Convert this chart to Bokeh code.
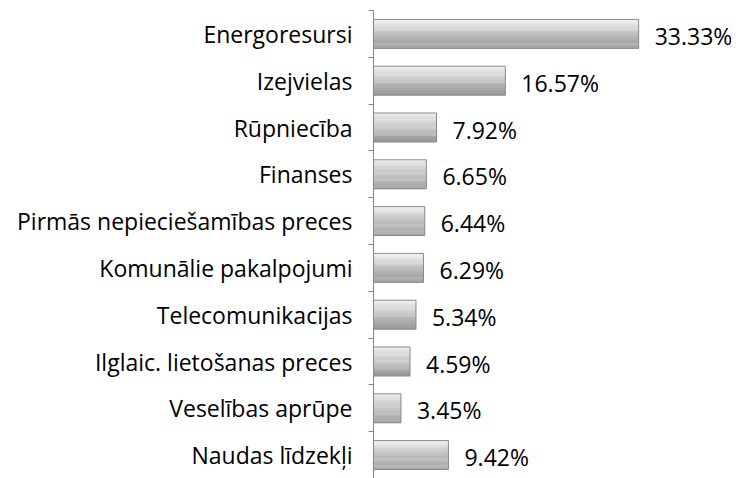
from bokeh.plotting import figure
from bokeh.models import Range1d, FixedTicker, ColumnDataSource, LabelSet
from bokeh.core.properties import value
from bokeh.embed import file_html
from bokeh.resources import INLINE

categories = ["Energoresursi", "Izejvielas", "Rūpniecība", "Finanses",
              "Pirmās nepieciešamības preces", "Komunālie pakalpojumi",
              "Telecomunikacijas", "Ilglaic. lietošanas preces",
              "Veselības aprūpe", "Naudas līdzekļi"]
values = [33.33, 16.57, 7.92, 6.65, 6.44, 6.29, 5.34, 4.59, 3.45, 9.42]
value_labels = ["33.33%", "16.57%", "7.92%", "6.65%", "6.44%", "6.29%",
                "5.34%", "4.59%", "3.45%", "9.42%"]

FONT = "Open Sans"
n = len(categories)
idx = list(range(n))

p = figure(width=750, height=478, output_backend="svg", toolbar_location=None,
           x_range=Range1d(0, 45), y_range=Range1d(n - 0.5, -0.5),
           min_border_left=373, min_border_right=19, min_border_top=10,
           min_border_bottom=0)
p.outline_line_color = None
p.xaxis.visible = False
p.xgrid.visible = False
p.ygrid.visible = False
p.background_fill_color = "white"

# gradient bars from stacked stripes
bar_h = 0.62
nstripes = 28
top_c = (238, 238, 238)
mid_c = (200, 200, 200)
bot_c = (152, 152, 152)
def mix(a, b, t):
    return "#%02x%02x%02x" % tuple(int(a[i] + (b[i] - a[i]) * t) for i in range(3))
sh = bar_h / nstripes
for k in range(nstripes):
    t = k / (nstripes - 1)
    col = mix(top_c, mid_c, t / 0.4) if t < 0.4 else mix(mid_c, bot_c, (t - 0.4) / 0.6)
    off = -bar_h / 2 + sh * (k + 0.5)
    src = ColumnDataSource(dict(y=[i + off for i in idx], v=values))
    p.hbar(y="y", right="v", left=0, height=sh * 1.15, source=src,
           fill_color=col, line_color=None)

# outline
src_o = ColumnDataSource(dict(y=idx, v=values))
p.hbar(y="y", right="v", left=0, height=bar_h, source=src_o,
       fill_color=None, line_color="#8a8a8a", line_width=1)

# value labels
src_l = ColumnDataSource(dict(y=idx, v=values, t=value_labels))
p.add_layout(LabelSet(x="v", y="y", text="t", source=src_l, x_offset=16,
                      y_offset=-2,
                      text_baseline="middle", text_align="left",
                      text_font=value(FONT), text_font_size="23px",
                      text_color="black"))

ax = p.yaxis[0]
ax.ticker = FixedTicker(ticks=idx, minor_ticks=[i - 0.5 for i in range(n + 1)])
ax.major_label_overrides = {i: c for i, c in enumerate(categories)}
ax.major_label_text_font = FONT
ax.major_label_text_font_size = "23px"
ax.major_label_text_color = "black"
ax.major_label_standoff = 16
ax.major_tick_line_color = None
ax.major_tick_out = 0
ax.major_tick_in = 0
ax.minor_tick_line_color = "#868686"
ax.minor_tick_out = 5
ax.minor_tick_in = 0
ax.axis_line_color = "#868686"

open("out.html", "w").write(file_html(p, INLINE))
